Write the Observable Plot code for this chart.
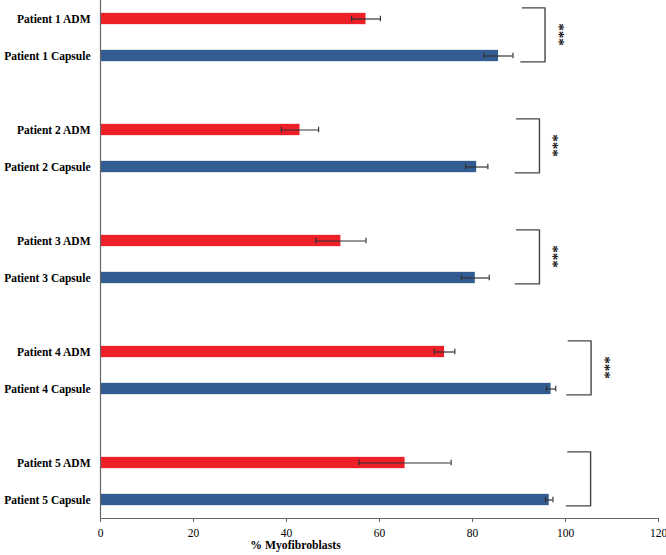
<!DOCTYPE html>
<html>
<head>
<meta charset="utf-8">
<script src="https://cdn.jsdelivr.net/npm/d3@7"></script>
<script src="https://cdn.jsdelivr.net/npm/@observablehq/plot@0.6"></script>
<style>
  html, body { margin: 0; padding: 0; background: #fff; }
  #chart svg { display: block; }
</style>
</head>
<body>
<div id="chart"></div>
<script>
// ---- data ----
const patients = ["Patient 1", "Patient 2", "Patient 3", "Patient 4", "Patient 5"];
const groups = ["ADM", "Capsule"];
const admMean = [57.1, 42.9, 51.7, 74.0, 65.5];
const admErr = [3.1, 4.0, 5.4, 2.2, 9.9];
const capMean = [85.6, 80.9, 80.6, 96.9, 96.5];
const capErr = [3.1, 2.4, 3.0, 1.0, 0.8];
const significance = ["***", "***", "***", "***", ""];
const bracketRight = [95.6, 94.4, 94.4, 105.5, 105.4];
const xTicks = [0, 20, 40, 60, 80, 100, 120];
const xLabel = "% Myofibroblasts";

const colors = {ADM: "#ed1f27", Capsule: "#335d92"};
const serif = "'Liberation Serif', 'Times New Roman', serif";

// each patient takes 3 rows: ADM, Capsule, gap
const rows = [];
patients.forEach((p, i) => {
  rows.push({label: `${p} ADM`, group: "ADM", slot: i * 3, value: admMean[i], err: admErr[i]});
  rows.push({label: `${p} Capsule`, group: "Capsule", slot: i * 3 + 1, value: capMean[i], err: capErr[i]});
});
const nSlots = patients.length * 3 - 1;
const labelOf = new Map(rows.map(d => [d.slot, d.label]));

const brackets = [];
patients.forEach((p, i) => {
  const top = i * 3 - 0.3, bot = i * 3 + 1 + 0.16, r = bracketRight[i];
  brackets.push({p, x: r - 4.9, y: top}, {p, x: r, y: top}, {p, x: r, y: bot}, {p, x: r - 5.2, y: bot});
});
const stars = patients.map((p, i) => ({p, x: bracketRight[i] + 3.8, y: i * 3 + 0.42, s: significance[i]}))
  .filter(d => d.s);

const halfBar = 0.153, halfCap = 0.075;

const chart = Plot.plot({
  width: 666,
  height: 555,
  marginLeft: 100,
  marginRight: 8,
  marginTop: 0,
  marginBottom: 37,
  style: {fontFamily: serif, background: "#fff", color: "#000"},
  x: {domain: [0, 120]},
  y: {domain: [-0.5, nSlots - 0.5], reverse: true},
  marks: [
    Plot.rectX(rows, {
      x1: 0, x2: "value",
      y1: d => d.slot - halfBar, y2: d => d.slot + halfBar,
      fill: d => colors[d.group]
    }),
    Plot.ruleY(rows, {y: "slot", x1: d => d.value - d.err, x2: d => d.value + d.err, stroke: "#333", strokeWidth: 1.2}),
    Plot.ruleX(rows, {x: d => d.value - d.err, y1: d => d.slot - halfCap, y2: d => d.slot + halfCap, stroke: "#333", strokeWidth: 1.2}),
    Plot.ruleX(rows, {x: d => d.value + d.err, y1: d => d.slot - halfCap, y2: d => d.slot + halfCap, stroke: "#333", strokeWidth: 1.2}),
    Plot.line(brackets, {x: "x", y: "y", z: "p", stroke: "#444", strokeWidth: 1.4, curve: "linear"}),
    Plot.text(stars, {x: "x", y: "y", text: "s", rotate: 90, dx: -4, fontSize: 15, fontWeight: "bold", fill: "#111"}),
    Plot.ruleX([0], {stroke: "#666", strokeWidth: 1.2}),
    Plot.ruleY([nSlots - 0.5], {stroke: "#666", strokeWidth: 1.2}),
    Plot.axisX({ticks: xTicks, tickSize: 4, tickPadding: 6, fontSize: 11.5, label: null, stroke: "#666"}),
    Plot.axisY({
      ticks: rows.map(d => d.slot),
      tickFormat: s => labelOf.get(s) ?? "",
      tickSize: 0, tickPadding: 10, fontSize: 11.5, fontWeight: "bold", label: null
    }),
    Plot.text([xLabel], {frameAnchor: "bottom", dx: -84, dy: 30, fontSize: 11.7, fontWeight: "bold", fill: "#000"})
  ]
});
document.getElementById("chart").append(chart);
</script>
</body>
</html>
